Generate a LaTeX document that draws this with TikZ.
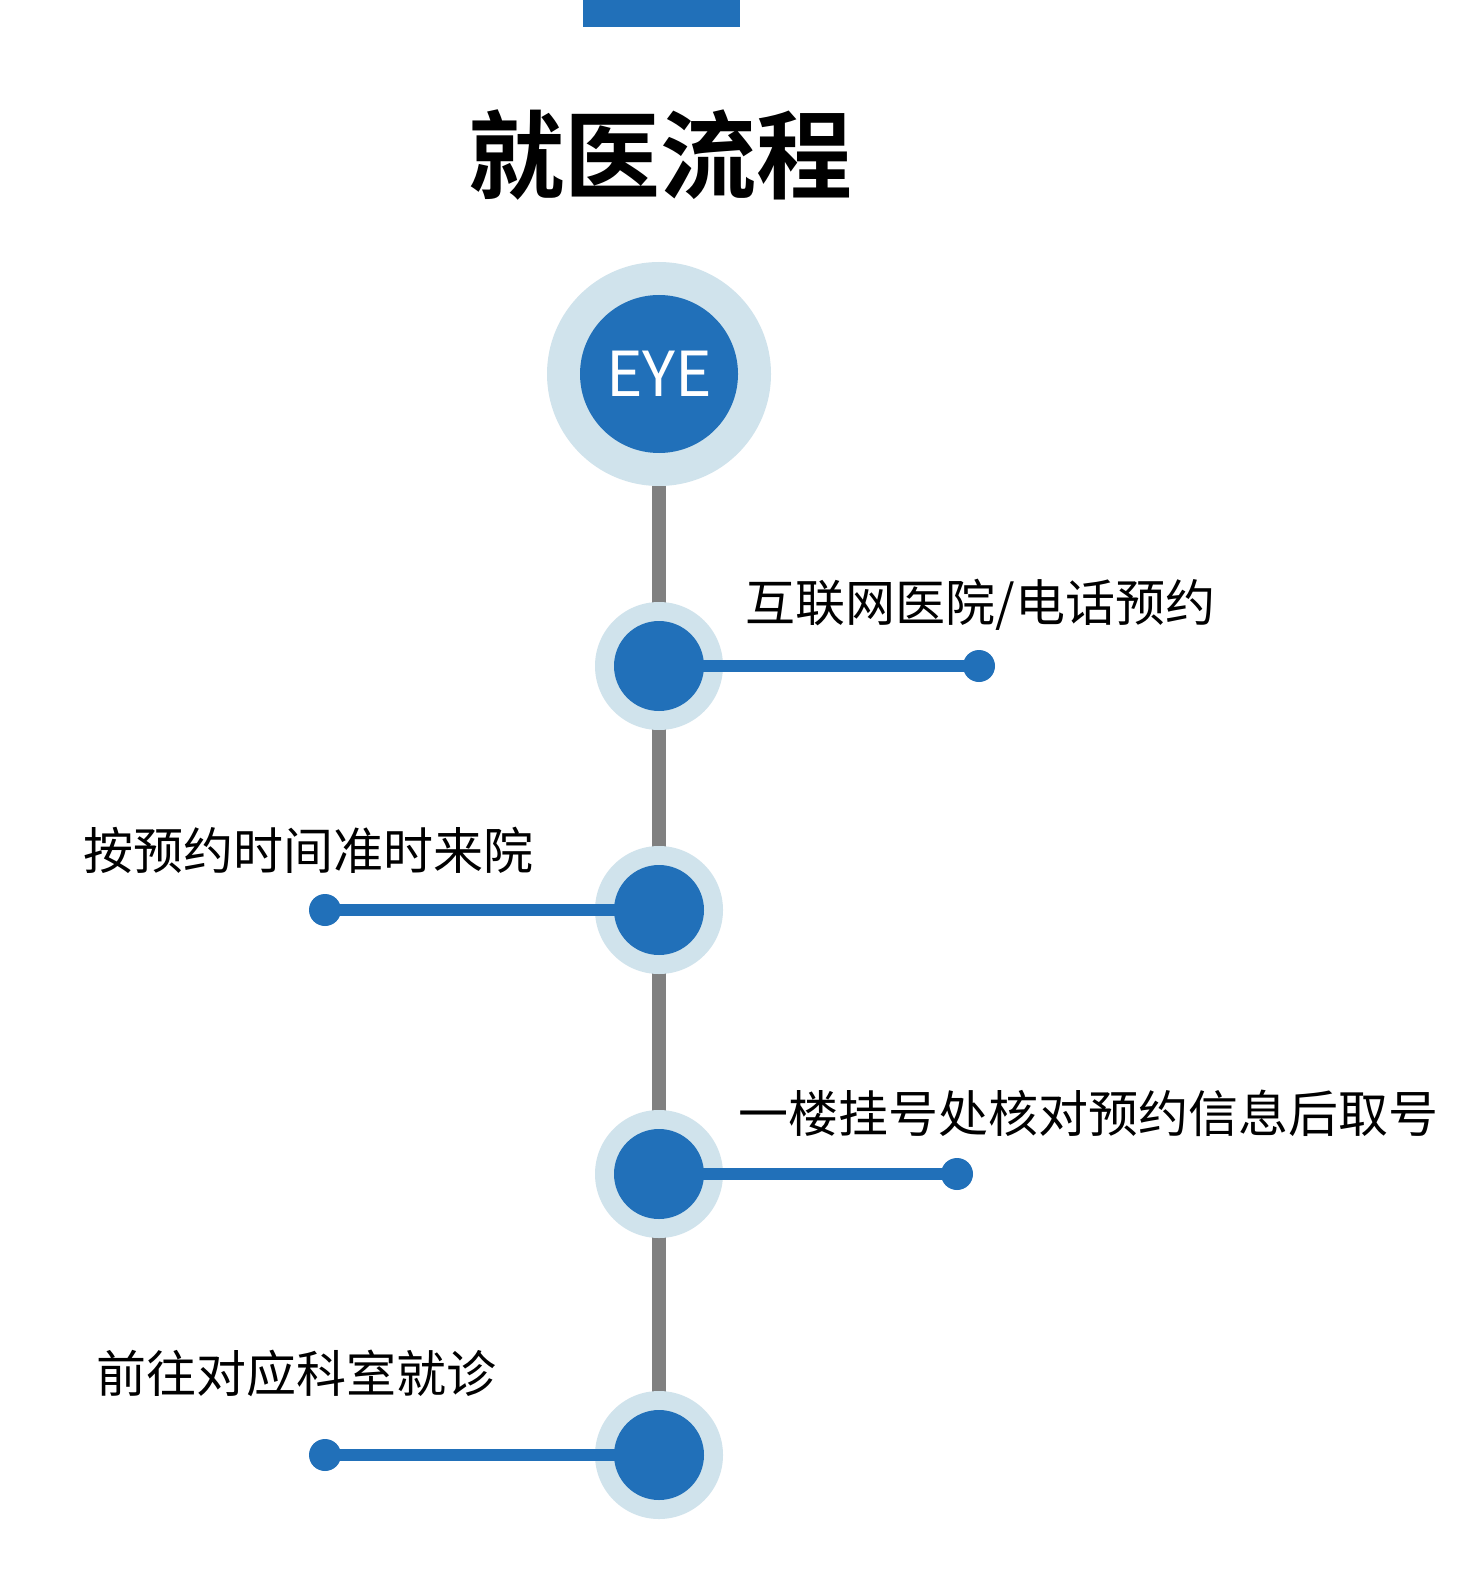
\documentclass[tikz,border=0pt]{standalone}
\usepackage{fontspec}
\setmainfont{Noto Sans CJK SC}
\newfontfamily\cjkbold{Noto Sans CJK SC Bold}
\usetikzlibrary{positioning}
\definecolor{stepblue}{HTML}{2170B9}
\definecolor{ringblue}{HTML}{D0E3EC}
\definecolor{trunkgray}{HTML}{808080}
\tikzset{
  ring/.style={circle,fill=ringblue,minimum size=#1,inner sep=0pt},
  core/.style={circle,fill=stepblue,minimum size=#1,inner sep=0pt},
  tipdot/.style={circle,fill=stepblue,minimum size=16pt,inner sep=0pt},
  branch/.style={stepblue,line width=6pt},
  steptext/.style={font=\fontsize{25pt}{30pt}\selectfont,inner sep=0pt}
}
\begin{document}
\begin{tikzpicture}[x=0.5pt,y=-0.5pt]
        \useasboundingbox[fill=white](0,0)rectangle(1479,1577);
        \fill[stepblue](583,0)rectangle(740,27);
        \node[font=\cjkbold\fontsize{48pt}{56pt}\selectfont](title)at(660,155){就医流程};

        % trunk
        \draw[trunkgray,line width=7pt](659,480)--(659,1400);

        \node[ring=112pt](eye)at(659,374){};
        \node[core=79pt,text=white,font=\fontsize{31pt}{36pt}\selectfont]at(eye){EYE};

        \foreach \n/\y in {1/666,2/910,3/1174,4/1455}{
            \node[ring=64pt](s\n)at(659,\y){};
        }
        \node[tipdot](d1)at(979,666){};
        \node[tipdot](d2)at(325,910){};
        \node[tipdot](d3)at(957,1174){};
        \node[tipdot](d4)at(325,1455){};
        \foreach \n in {1,...,4}{
            \draw[branch](s\n.center)--(d\n.center);
            \node[core=45pt]at(s\n){};
        }

        \node[steptext,anchor=west](t1)at(745,605){互联网医院/电话预约};
        \node[steptext,anchor=west](t2)at(83,850){按预约时间准时来院};
        \node[steptext,anchor=west](t3)at(738,1113){一楼挂号处核对预约信息后取号};
        \node[steptext,anchor=west](t4)at(96,1373){前往对应科室就诊};
    \end{tikzpicture}
\end{document}
